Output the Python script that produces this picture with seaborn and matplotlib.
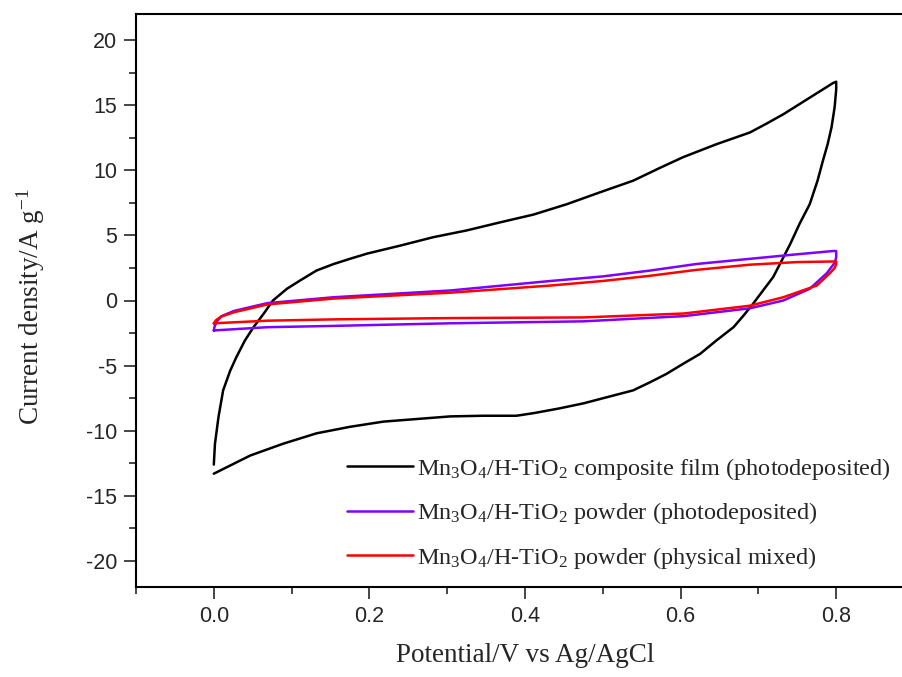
# =========================================================
# Cyclic voltammetry curves: Mn3O4/H-TiO2 samples
# =========================================================

import pandas as pd
import matplotlib
matplotlib.use("Agg")
import matplotlib.pyplot as plt
from matplotlib.ticker import MultipleLocator
import seaborn as sns

# =========================================================
# DATA
# =========================================================

# composite film - anodic sweep then cathodic sweep
film_up_v = [0.000, 0.0015, 0.006, 0.012, 0.021, 0.029, 0.040, 0.051, 0.064, 0.076,
             0.094, 0.111, 0.132, 0.154, 0.175, 0.197, 0.240, 0.282, 0.325, 0.368,
             0.411, 0.454, 0.496, 0.539, 0.574, 0.603, 0.646, 0.689, 0.711, 0.732,
             0.764, 0.796, 0.800]
film_up_j = [-12.6, -11.0, -8.96, -6.9, -5.4, -4.35, -3.07, -2.05, -1.02, 0.0,
             0.9, 1.54, 2.3, 2.8, 3.2, 3.6, 4.22, 4.86, 5.38, 6.0,
             6.6, 7.4, 8.3, 9.2, 10.2, 11.0, 12.0, 12.9, 13.6, 14.3,
             15.5, 16.7, 16.8]
film_down_v = [0.800, 0.798, 0.794, 0.789, 0.783, 0.776, 0.766, 0.753, 0.741,
               0.730, 0.719, 0.706, 0.693, 0.681, 0.668, 0.646, 0.625, 0.603, 0.582,
               0.561, 0.539, 0.507, 0.475, 0.443, 0.411, 0.389, 0.346, 0.304, 0.261,
               0.218, 0.175, 0.132, 0.089, 0.047, 0.000]
film_down_j = [16.2, 14.85, 13.3, 12.0, 10.75, 9.2, 7.4, 5.9, 4.35,
               3.07, 1.8, 0.77, -0.26, -1.15, -2.05, -3.07, -4.1, -4.87, -5.63,
               -6.27, -6.9, -7.4, -7.9, -8.3, -8.65, -8.85, -8.85, -8.9, -9.1,
               -9.3, -9.7, -10.2, -11.0, -11.9, -13.3]

# powder (photodeposited)
photo_up_v = [0.000, 0.001, 0.004, 0.010, 0.026, 0.069, 0.154, 0.304, 0.433, 0.500,
              0.561, 0.620, 0.689, 0.750, 0.796, 0.800]
photo_up_j = [-2.3, -2.0, -1.6, -1.2, -0.8, -0.2, 0.25, 0.77, 1.5, 1.85,
              2.3, 2.8, 3.2, 3.55, 3.8, 3.8]
photo_down_v = [0.800, 0.798, 0.788, 0.766, 0.732, 0.689, 0.604, 0.475, 0.304, 0.154,
                0.069, 0.000]
photo_down_j = [3.3, 2.9, 2.1, 0.9, 0.0, -0.6, -1.2, -1.6, -1.75, -1.95,
                -2.05, -2.3]

# powder (physical mixed)
mixed_up_v = [0.000, 0.003, 0.009, 0.026, 0.069, 0.154, 0.304, 0.433, 0.500, 0.561,
              0.620, 0.689, 0.750, 0.800]
mixed_up_j = [-1.75, -1.5, -1.25, -0.9, -0.3, 0.15, 0.6, 1.15, 1.5, 1.9,
              2.35, 2.75, 2.95, 3.0]
mixed_down_v = [0.800, 0.798, 0.792, 0.775, 0.732, 0.689, 0.604, 0.475, 0.304, 0.154,
                0.069, 0.000]
mixed_down_j = [2.8, 2.5, 2.1, 1.15, 0.25, -0.4, -1.0, -1.3, -1.35, -1.45,
                -1.55, -1.75]

labels = [
    r"Mn$_3$O$_4$/H-TiO$_2$ composite film (photodeposited)",
    r"Mn$_3$O$_4$/H-TiO$_2$ powder (photodeposited)",
    r"Mn$_3$O$_4$/H-TiO$_2$ powder (physical mixed)",
]
colors = ["black", "#7F00FF", "#FF0000"]

curves = [
    (film_up_v + film_down_v, film_up_j + film_down_j),
    (photo_up_v + photo_down_v, photo_up_j + photo_down_j),
    (mixed_up_v + mixed_down_v, mixed_up_j + mixed_down_j),
]

# =========================================================
# STYLE
# =========================================================

sns.set_style("ticks")
plt.rcParams["font.family"] = ["Liberation Sans", "DejaVu Sans"]
plt.rcParams["mathtext.fontset"] = "custom"
plt.rcParams["mathtext.rm"] = "Liberation Serif"
plt.rcParams["mathtext.it"] = "Liberation Serif:italic"
plt.rcParams["mathtext.default"] = "rm"
plt.rcParams["axes.unicode_minus"] = False

serif = ["Liberation Serif", "DejaVu Serif"]

# =========================================================
# PLOT
# =========================================================

fig = plt.figure(figsize=(9.03, 6.77), dpi=100)
ax = fig.add_axes([136 / 903, 90 / 677, 778 / 903, 573 / 677])

for (v, j), label, color in zip(curves, labels, colors):
    df = pd.DataFrame({"v": v, "j": j})
    sns.lineplot(data=df, x="v", y="j", sort=False, estimator=None,
                 color=color, lw=1.8, label=label, ax=ax)

ax.set_xlim(-0.1, 0.9)
ax.set_ylim(-22, 22)
ax.xaxis.set_minor_locator(MultipleLocator(0.1))
ax.yaxis.set_major_locator(MultipleLocator(5))
ax.yaxis.set_minor_locator(MultipleLocator(2.5))
ax.set_xticks([0.0, 0.2, 0.4, 0.6, 0.8])
ax.set_xticklabels(["0.0", "0.2", "0.4", "0.6", "0.8"])

ax.tick_params(which="major", direction="out", length=8.5, width=1.2,
               labelsize=15.5, pad=5)
ax.tick_params(which="minor", direction="out", length=5, width=1.2)

for side in ["left", "bottom", "top", "right"]:
    ax.spines[side].set_linewidth(1.5)
    ax.spines[side].set_color("black")

ax.set_xlabel("Potential/V vs Ag/AgCl", fontsize=19.5, family=serif)
ax.set_ylabel("Current density/A g$^{-1}$", fontsize=19.5, family=serif)
ax.xaxis.set_label_coords(0.5, -0.098)
ax.yaxis.set_label_coords(-0.114, 0.49)

leg = ax.legend(loc="upper left", bbox_to_anchor=(347 / 903, 1 - 456 / 677),
                bbox_transform=fig.transFigure, frameon=False,
                borderpad=0, borderaxespad=0, handlelength=2.7,
                handletextpad=0.2, labelspacing=0.76,
                prop={"family": serif, "size": 17.5})

plt.savefig("out.png", dpi=100)
plt.close()
